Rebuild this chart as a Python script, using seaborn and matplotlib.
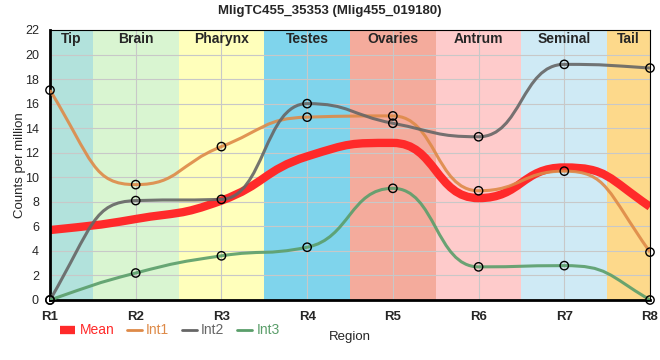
import matplotlib
matplotlib.use("Agg")
import matplotlib.pyplot as plt
from matplotlib.lines import Line2D
from matplotlib.patches import PathPatch
from matplotlib.path import Path
import numpy as np
import pandas as pd
import seaborn as sns

TITLE = "MligTC455_35353 (Mlig455_019180)"
REGIONS = ["R1", "R2", "R3", "R4", "R5", "R6", "R7", "R8"]
TISSUES = ["Tip", "Brain", "Pharynx", "Testes", "Ovaries", "Antrum", "Seminal", "Tail"]
TISSUE_COLORS = ["#b2e2dc", "#d9f5d1", "#ffffbb", "#7fd4ec",
                 "#f4ab9c", "#fecbcb", "#cfeaf5", "#fdd98b"]

MEAN = [5.7, 6.6, 8.1, 11.7, 12.8, 8.3, 10.8, 7.6]
INT1 = [17.1, 9.4, 12.5, 14.9, 15.0, 8.9, 10.5, 3.9]
INT2 = [0.0, 8.1, 8.2, 16.0, 14.4, 13.3, 19.2, 18.9]
INT3 = [0.0, 2.2, 3.6, 4.3, 9.1, 2.7, 2.8, 0.0]

SERIES = {"Int1": INT1, "Int2": INT2, "Int3": INT3}
COLORS = {"Mean": "#ff2a2a", "Int1": "#de8a48", "Int2": "#666666", "Int3": "#5a9e6a"}

sns.set_theme(style="whitegrid", rc={"grid.color": "#c8c8c8", "grid.linewidth": 0.8})
plt.rcParams["font.family"] = ["Liberation Sans", "DejaVu Sans"]


def monotone_path(xs, ys, frac=0.5):
    """Monotone cubic bezier path, control points at frac of each interval."""
    xs = np.asarray(xs, float)
    ys = np.asarray(ys, float)
    n = len(xs)
    h = np.diff(xs)
    s = np.diff(ys) / h
    t = np.zeros(n)
    for i in range(1, n - 1):
        p = (s[i - 1] * h[i] + s[i] * h[i - 1]) / (h[i - 1] + h[i])
        t[i] = (np.sign(s[i - 1]) + np.sign(s[i])) * min(abs(s[i - 1]), abs(s[i]), 0.5 * abs(p))
    t[0] = (3 * s[0] - t[1]) / 2
    t[-1] = (3 * s[-1] - t[-2]) / 2
    verts = [(xs[0], ys[0])]
    codes = [Path.MOVETO]
    for i in range(n - 1):
        dx = xs[i + 1] - xs[i]
        verts += [(xs[i] + dx * frac, ys[i] + dx * frac * t[i]),
                  (xs[i + 1] - dx * frac, ys[i + 1] - dx * frac * t[i + 1]),
                  (xs[i + 1], ys[i + 1])]
        codes += [Path.CURVE4] * 3
    return Path(verts, codes)


fig = plt.figure(figsize=(6.6, 3.6), dpi=100)
ax = fig.add_axes([50 / 660, 60 / 360, 600 / 660, 270 / 360])
x = np.arange(len(REGIONS))

# tissue background bands
for i, (name, col) in enumerate(zip(TISSUES, TISSUE_COLORS)):
    ax.axvspan(i - 0.5, i + 0.5, color=col, zorder=0, lw=0)
    ax.text(min(max(i, 0.25), len(REGIONS) - 1.25), 21.3, name, ha="center", va="center",
            fontsize=10, fontweight="bold", zorder=5)

ax.add_patch(PathPatch(monotone_path(x, MEAN), fill=False, ec=COLORS["Mean"],
                       lw=6, capstyle="butt", zorder=2))
for name, vals in SERIES.items():
    ax.add_patch(PathPatch(monotone_path(x, vals), fill=False, ec=COLORS[name],
                           lw=2.2, alpha=0.9, capstyle="butt", zorder=3))

pts = pd.DataFrame([(r, v, name) for name, vals in SERIES.items()
                    for r, v in zip(x, vals)], columns=["x", "y", "series"])
sns.scatterplot(data=pts, x="x", y="y", ax=ax, s=36, facecolor="none",
                edgecolor="black", linewidth=1, legend=False, zorder=4, clip_on=False)

ax.set_xlim(0, len(REGIONS) - 1)
ax.set_ylim(0, 22)
ax.set_yticks(range(0, 23, 2))
ax.set_xticks(x)
ax.set_xticklabels(REGIONS, fontweight="bold", fontsize=9.5)
ax.tick_params(axis="y", labelsize=9, pad=2)
ax.tick_params(axis="x", pad=2)
ax.set_axisbelow(True)
for side in ["left", "bottom"]:
    ax.spines[side].set_color("black")
    ax.spines[side].set_linewidth(2)
for side in ["top", "right"]:
    ax.spines[side].set_color("black")
    ax.spines[side].set_linewidth(0.8)

ax.set_ylabel("Counts per million", fontsize=9.5)
ax.set_xlabel("Region", fontsize=9.5)
ax.xaxis.set_label_coords(0.5, -0.115)
ax.yaxis.set_label_coords(-0.04, 0.5)
fig.text(0.5, 0.97, TITLE, ha="center", va="center", fontsize=9.5, fontweight="bold")

handles = [Line2D([], [], color=COLORS["Mean"], lw=6, solid_capstyle="butt"),
           Line2D([], [], color=COLORS["Int1"], lw=2),
           Line2D([], [], color=COLORS["Int2"], lw=2),
           Line2D([], [], color=COLORS["Int3"], lw=2)]
fig.legend(handles, ["Mean", "Int1", "Int2", "Int3"], loc="center left",
           bbox_to_anchor=(0.072, 0.082), ncol=4, frameon=False, fontsize=10,
           handlelength=1.1, handletextpad=0.3, columnspacing=0.9,
           labelcolor=[COLORS[k] for k in ["Mean", "Int1", "Int2", "Int3"]])

fig.savefig("out.png", dpi=100)
